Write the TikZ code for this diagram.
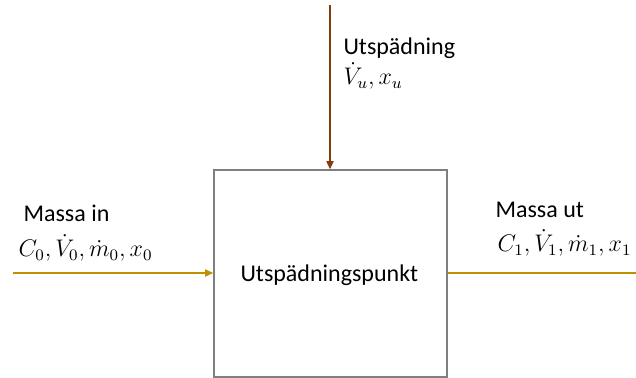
\documentclass[tikz,border=0pt]{standalone}
\usepackage{fontspec}
\setmainfont{Carlito}
\usetikzlibrary{arrows.meta}
\definecolor{inflow}{HTML}{BF9000}
\definecolor{dilute}{HTML}{843C0C}
\definecolor{boxgray}{HTML}{7F7F7F}

\begin{document}
\begin{tikzpicture}[x=0.5pt,y=-0.5pt,line width=0.55,font=\fontsize{12}{14}\selectfont,
  lbl/.style={anchor=base west,inner sep=0},
  flow/.style={-{Triangle[length=4pt,width=3.6pt]}}]
\useasboundingbox (0,0) rectangle (636,378);
			\node[draw=boxgray,line width=0.8,minimum width=116.5pt,minimum height=103.5pt,inner sep=0] (pkt) at (330.5,273.5) {};
			\node[lbl] (namn) at (240,282) {Utspädningspunkt};
			\coordinate (in) at (13,273);
			\coordinate (ut) at (636,273);
			\coordinate (topp) at (330,5);
			\draw[flow,inflow] (in)--(pkt.west|-in);
			\draw[inflow] (pkt.east|-ut)--(ut);
			\draw[flow,dilute] (topp)--(pkt.north-|topp);
			\node[lbl] (intext) at (23,222) {Massa in};
			\node[lbl] (inmath) at (18,257) {$C_0, \dot{V}_0, \dot{m}_0, x_0$};
			\node[lbl] (uttext) at (495,218) {Massa ut};
			\node[lbl] (utmath) at (497,252) {$C_1, \dot{V}_1, \dot{m}_1, x_1$};
			\node[lbl] (dtext) at (343,55) {Utspädning};
			\node[lbl] (dmath) at (343,85) {$\dot{V}_u, x_u$};
		\end{tikzpicture}
\end{document}
